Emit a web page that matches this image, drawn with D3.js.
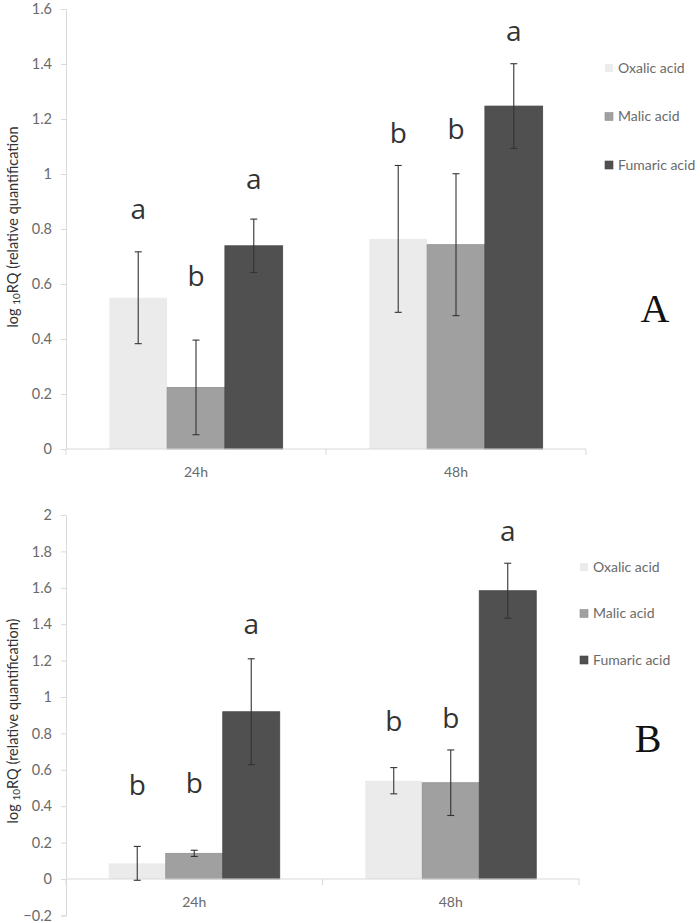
<!DOCTYPE html>
<html><head><meta charset="utf-8">
<script src="https://cdn.jsdelivr.net/npm/d3@7"></script>
<style>body{margin:0;background:#fff}svg{display:block}</style>
</head><body>
<svg id="c" width="700" height="923"></svg>
<script>
const categories = ["24h", "48h"];
const series = ["Oxalic acid", "Malic acid", "Fumaric acid"];
const colors = ["#ebebeb", "#a0a0a0", "#505050"];

// Panel A
const aMeans = [[0.550, 0.224, 0.739], [0.764, 0.743, 1.247]];
const aErrs  = [[0.167, 0.172, 0.097], [0.267, 0.258, 0.154]];
const aLetters = [["a", "b", "a"], ["b", "b", "a"]];
const aLetterY = [[0.835, 0.593, 0.944], [1.112, 1.126, 1.485]];
const aTicks = [0, 0.2, 0.4, 0.6, 0.8, 1, 1.2, 1.4, 1.6];

// Panel B
const bMeans = [[0.086, 0.141, 0.919], [0.540, 0.529, 1.584]];
const bErrs  = [[0.093, 0.017, 0.291], [0.072, 0.180, 0.151]];
const bLetters = [["b", "b", "a"], ["b", "b", "a"]];
const bLetterY = [[0.462, 0.471, 1.346], [0.815, 0.828, 1.855]];
const bTicks = [-0.2, 0, 0.2, 0.4, 0.6, 0.8, 1, 1.2, 1.4, 1.6, 1.8, 2];

const svg = d3.select("#c");
const axisColor = "#d9d9d9";
const tickText = "#6a6a6a";

function panel(o) {
  const g = svg.append("g");
  const y = d3.scaleLinear().domain(o.domain).range(o.yRange);
  const x0 = d3.scaleBand().domain(categories).range(o.xRange).paddingInner(0).paddingOuter(0);
  const x1 = d3.scaleBand().domain(series).range([0, x0.bandwidth()]).paddingInner(0).paddingOuter(0.75);

  // y axis
  const ya = d3.axisLeft(y).tickValues(o.ticks).tickSize(5).tickPadding(9).tickFormat(d => d3.format("")(+d.toFixed(1)));
  const yg = g.append("g").attr("transform", `translate(${o.xRange[0]},0)`).call(ya);
  yg.select(".domain").attr("stroke", axisColor);
  yg.selectAll(".tick line").attr("stroke", axisColor);
  yg.selectAll(".tick text").attr("fill", tickText).attr("font-family", "Lato, sans-serif").attr("font-size", 14.5);

  // bars
  categories.forEach((c, ci) => {
    series.forEach((s, si) => {
      const v = o.means[ci][si];
      const bx = x0(c) + x1(s);
      g.append("rect")
        .attr("x", bx).attr("width", x1.bandwidth())
        .attr("y", y(Math.max(0, v))).attr("height", Math.abs(y(v) - y(0)))
        .attr("fill", colors[si])
        .attr("stroke", si === 0 ? "none" : d3.color(colors[si]).darker(0.3))
        .attr("stroke-width", 0.8);
    });
  });

  // x axis at zero
  const xa = d3.axisBottom(x0).tickSize(0).tickPadding(18);
  const xg = g.append("g").attr("transform", `translate(0,${y(0)})`).call(xa);
  xg.select(".domain").remove();
  xg.append("line").attr("x1", o.xRange[0]).attr("x2", o.xRange[1]).attr("stroke", axisColor);
  const bounds = [o.xRange[0], (o.xRange[0] + o.xRange[1]) / 2, o.xRange[1]];
  bounds.forEach(bx => xg.append("line").attr("x1", bx).attr("x2", bx).attr("y1", 0).attr("y2", 6).attr("stroke", axisColor));
  xg.selectAll(".tick text").attr("fill", tickText).attr("font-family", "Lato, sans-serif").attr("font-size", 14).attr("dy", o.catDy);

  // error bars and letters
  categories.forEach((c, ci) => {
    series.forEach((s, si) => {
      const cx = x0(c) + x1(s) + x1.bandwidth() / 2;
      const v = o.means[ci][si], e = o.errs[ci][si];
      const eg = g.append("g").attr("stroke", "#333").attr("stroke-width", 1.1);
      eg.append("line").attr("x1", cx).attr("x2", cx).attr("y1", y(v + e)).attr("y2", y(v - e));
      eg.append("line").attr("x1", cx - 3.5).attr("x2", cx + 3.5).attr("y1", y(v + e)).attr("y2", y(v + e));
      eg.append("line").attr("x1", cx - 3.5).attr("x2", cx + 3.5).attr("y1", y(v - e)).attr("y2", y(v - e));
      g.append("text").attr("x", cx).attr("y", y(o.letterY[ci][si]))
        .attr("text-anchor", "middle").attr("font-family", "'Open Sans', sans-serif")
        .attr("font-size", 28).attr("fill", "#333").text(o.letters[ci][si]);
    });
  });

  // legend
  series.forEach((s, si) => {
    const ly = o.legendY + si * o.legendGap;
    g.append("rect").attr("x", o.legendX).attr("y", ly - 4).attr("width", 8).attr("height", 8)
      .attr("fill", colors[si]).attr("stroke", si === 0 ? "none" : d3.color(colors[si]).darker(0.3)).attr("stroke-width", 0.6);
    g.append("text").attr("x", o.legendX + 13).attr("y", ly).attr("dy", "0.35em")
      .attr("font-family", "Lato, sans-serif").attr("font-size", 14).attr("fill", "#6a6a6a").text(s);
  });

  // panel letter
  g.append("text").attr("x", o.tagX).attr("y", o.tagY).attr("text-anchor", "middle")
    .attr("font-family", "'Liberation Serif', 'Times New Roman', serif").attr("font-size", 40)
    .attr("fill", "#111").text(o.tag);

  // y title
  const t = g.append("text").attr("transform", `translate(18,${o.titleY}) rotate(-90)`)
    .attr("text-anchor", "middle").attr("font-family", "Lato, sans-serif").attr("font-size", 14.5).attr("fill", "#333");
  t.append("tspan").text("log ");
  t.append("tspan").attr("font-size", 10).attr("dy", 2).text("10");
  t.append("tspan").attr("dy", -2).text(o.title);
}

panel({
  domain: [0, 1.6], yRange: [449, 9], xRange: [66, 586], ticks: aTicks,
  means: aMeans, errs: aErrs, letters: aLetters, letterY: aLetterY,
  legendX: 605, legendY: 68, legendGap: 48.5, tag: "A", tagX: 655, tagY: 322,
  titleY: 227, title: "RQ (relative quantification", catDy: "0.7em"
});
panel({
  domain: [-0.2, 2], yRange: [915.4, 515], xRange: [66, 579], ticks: bTicks,
  means: bMeans, errs: bErrs, letters: bLetters, letterY: bLetterY,
  legendX: 580, legendY: 567, legendGap: 46.5, tag: "B", tagX: 648, tagY: 752,
  titleY: 721, title: "RQ (relative quantification)", catDy: "0.7em"
});
</script>
</body></html>
